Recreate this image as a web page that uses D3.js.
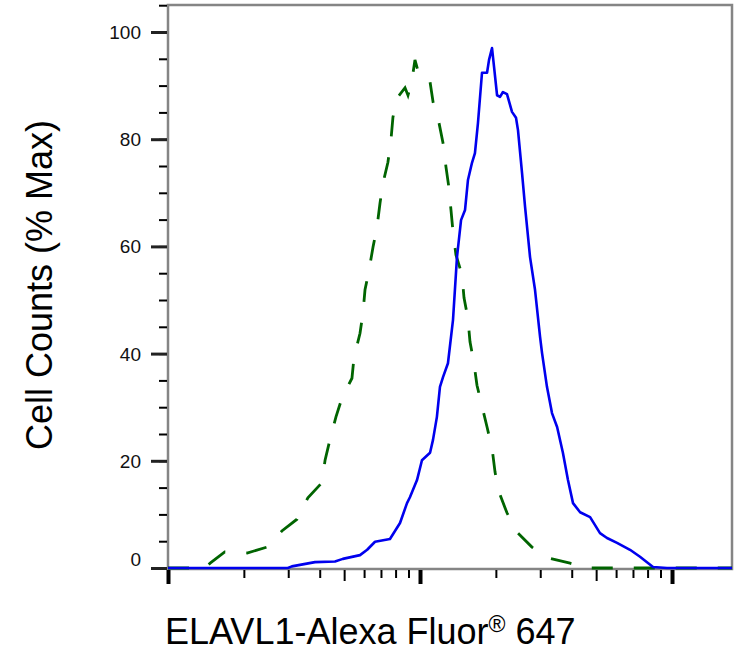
<!DOCTYPE html>
<html>
<head>
<script src="https://d3js.org/d3.v7.min.js" charset="utf-8"></script>
<style>
    body { margin: 0; background: #fff; }
    text { font-family: "Liberation Sans", Arial, sans-serif; }
</style>
</head>
<body>
<script>
    // stained sample (blue, solid)
    var stainedIntensity = [100, 299, 310, 383, 460, 494, 578, 617, 663, 760, 833, 888, 912, 973, 1018, 1096, 1126, 1167, 1200, 1234, 1291, 1352, 1402, 1455, 1509, 1550, 1608, 1652, 1698, 1762, 1845, 1879, 1931, 1967, 2022, 2077, 2134, 2214, 2318, 2404, 2448, 2540, 2611, 2733, 2860, 2995, 3050, 3190, 3340, 3500, 3690, 3865, 4047, 4318, 4731, 5179, 5521, 6051, 6813, 7464, 8408, 9550, 17300];
    var stainedCounts    = [0, 0, 0.3, 1.1, 1.2, 1.7, 2.4, 3.4, 4.9, 5.4, 8.4, 12.1, 13.2, 16.4, 20.1, 21.5, 23.9, 28.2, 33.8, 35.6, 38.2, 46.3, 58.0, 64.9, 66.8, 72.4, 75.6, 77.4, 83.0, 92.4, 92.4, 94.8, 97.0, 93.5, 88.2, 87.9, 88.8, 88.4, 85.1, 84.0, 81.7, 73.7, 67.4, 58.0, 51.9, 43.1, 40.1, 33.8, 28.9, 26.3, 21.5, 16.4, 12.1, 10.4, 9.5, 6.5, 5.6, 4.7, 3.4, 2.1, 0.2, 0, 0];

    // isotype control (green, dashed)
    var controlIntensity = [100, 140, 147, 168, 206, 247, 283, 325, 359, 408, 420, 439, 464, 490, 537, 547, 578, 594, 605, 628, 651, 675, 694, 713, 746, 767, 781, 811, 872, 896, 929, 955, 1000, 1096, 1127, 1190, 1234, 1268, 1303, 1327, 1352, 1389, 1468, 1495, 1549, 1579, 1637, 1683, 1762, 1845, 1931, 1985, 2056, 2213, 2426, 2781, 3220, 3938, 4600, 17300];
    var controlCounts    = [0, 0, 0.9, 3.0, 2.8, 3.9, 6.9, 9.1, 13.1, 15.9, 20.1, 23.9, 28.2, 31.7, 35.4, 39.2, 43.8, 47.6, 51.9, 55.6, 59.9, 63.6, 68.1, 71.8, 75.7, 79.9, 84.1, 87.7, 89.6, 88.2, 91.0, 94.8, 91.4, 90.7, 86.9, 83.0, 79.3, 74.8, 70.9, 66.8, 62.7, 58.4, 54.7, 50.4, 46.6, 42.2, 38.2, 34.1, 30.2, 26.3, 22.4, 17.9, 14.2, 10.3, 6.7, 3.9, 1.9, 0.9, 0, 0];

    var yMajorTicks = [0, 20, 40, 60, 80, 100];
    var xDecades = [100, 1000, 10000];

    var xTitle = "ELAVL1-Alexa Fluor";
    var xTitleSup = "\u00AE";
    var xTitleEnd = " 647";
    var yTitle = "Cell Counts (% Max)";

    var w = 754;
    var h = 652;
    // plot box (avoid the name "top", it is window.top)
    var pLeft = 168, pRight = 732, pTop = 5, pBottom = 569;

    var x = d3.scaleLog().domain([100, 17300]).range([pLeft, pRight]);
    var y = d3.scaleLinear().domain([0, 100]).range([568, 32]);

    var svg = d3.select("body")
                .append("svg")
                .attr("width", w)
                .attr("height", h);

    // frame
    svg.append("rect")
        .attr("x", pLeft)
        .attr("y", pTop)
        .attr("width", pRight - pLeft)
        .attr("height", pBottom - pTop)
        .attr("fill", "none")
        .attr("stroke", "#858585")
        .attr("stroke-width", 2.5);

    // y ticks: minor every 5, labelled every 20
    var yMinor = svg.append("g")
        .attr("transform", "translate(" + (pLeft - 1) + ",0)")
        .call(d3.axisLeft(y).tickValues(d3.range(0, 106, 5)).tickSize(8).tickFormat(""));
    yMinor.select(".domain").remove();
    yMinor.selectAll("line").attr("stroke", "#000").attr("stroke-width", 2);

    var yMajor = svg.append("g")
        .attr("transform", "translate(" + (pLeft - 1) + ",0)")
        .call(d3.axisLeft(y).tickValues(yMajorTicks).tickSize(16).tickPadding(10));
    yMajor.select(".domain").remove();
    yMajor.selectAll("line").attr("stroke", "#222").attr("stroke-width", 3);
    yMajor.selectAll("text")
        .attr("font-size", 19)
        .attr("font-family", "Liberation Sans, Arial, sans-serif")
        .attr("fill", "#111")
        .attr("dy", function(d) { return d === 0 ? "-0.15em" : "0.34em"; });

    // x ticks on a log scale
    var minorVals = [];
    xDecades.forEach(function(dec) {
        for (var k = 2; k <= 9; k++) {
            if (dec * k < 17300) minorVals.push(dec * k);
        }
    });

    var xMinor = svg.append("g")
        .attr("transform", "translate(0," + (pBottom + 1) + ")")
        .call(d3.axisBottom(x).tickValues(minorVals).tickSizeOuter(0).tickSize(8).tickFormat(""));
    xMinor.select(".domain").remove();
    xMinor.selectAll("line")
        .attr("stroke", "#000")
        .attr("stroke-width", 2)
        .attr("y2", function(d) { return String(d)[0] === "5" ? 11 : 8; });

    var xMajor = svg.append("g")
        .attr("transform", "translate(0," + (pBottom + 1) + ")")
        .call(d3.axisBottom(x).tickValues(xDecades).tickSizeOuter(0).tickSize(14).tickFormat(""));
    xMajor.select(".domain").remove();
    xMajor.selectAll("line").attr("stroke", "#000").attr("stroke-width", 4);

    var line = d3.line()
        .x(function(d) { return x(d[0]); })
        .y(function(d) { return y(d[1]); });

    var control = controlIntensity.map(function(v, i) { return [v, controlCounts[i]]; });
    var stained = stainedIntensity.map(function(v, i) { return [v, stainedCounts[i]]; });

    svg.append("path")
        .datum(control)
        .attr("d", line)
        .attr("fill", "none")
        .attr("stroke", "#006400")
        .attr("stroke-width", 2.8)
        .attr("stroke-dasharray", "21,21");

    svg.append("path")
        .datum(stained)
        .attr("d", line)
        .attr("fill", "none")
        .attr("stroke", "#0000ee")
        .attr("stroke-width", 2.6)
        .attr("stroke-linejoin", "round");

    // axis titles
    var xt = svg.append("text")
        .attr("x", 165)
        .attr("y", 644)
        .attr("font-size", 36)
        .attr("fill", "#000");
    xt.append("tspan").text(xTitle);
    xt.append("tspan").attr("font-size", 23).attr("dy", -12).text(xTitleSup);
    xt.append("tspan").attr("dy", 12).text(xTitleEnd);

    svg.append("text")
        .attr("transform", "translate(52,285) rotate(-90)")
        .attr("text-anchor", "middle")
        .attr("font-size", 36)
        .attr("fill", "#000")
        .text(yTitle);
</script>
</body>
</html>
